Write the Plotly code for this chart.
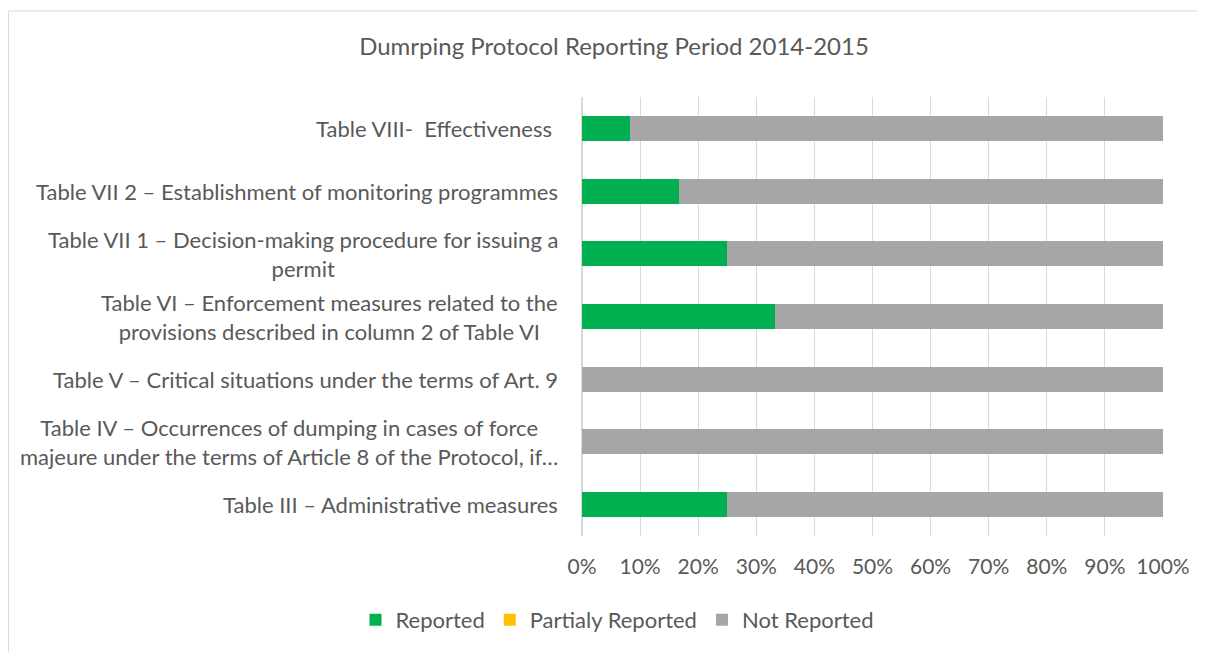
import plotly.graph_objects as go

categories = [
    "Table VIII-  Effectiveness\u00a0",
    "Table VII 2 \u2013 Establishment of monitoring programmes",
    "Table VII 1 \u2013 Decision-making procedure for issuing a<br>permit",
    "Table VI \u2013 Enforcement measures related to the<br>provisions described in column 2 of Table VI",
    "Table V \u2013 Critical situations under the terms of Art. 9",
    "Table IV \u2013 Occurrences of dumping in cases of force<br>majeure under the terms of Article 8 of the Protocol, if\u2026",
    "Table III \u2013 Administrative measures",
]
reported = [8.3, 16.7, 25.0, 33.3, 0.0, 0.0, 25.0]
partialy_reported = [0, 0, 0, 0, 0, 0, 0]
not_reported = [91.7, 83.3, 75.0, 66.7, 100.0, 100.0, 75.0]
x_ticks = [0, 10, 20, 30, 40, 50, 60, 70, 80, 90, 100]

FONT = "Lato, Carlito, Calibri, sans-serif"
TXT = "#595959"

# page body has an 8px offset
W, H = 1197, 644
L, R, T, B = 574, 42, 89, 116
PW = W - L - R
PH = H - T - B

cat_ids = list(range(len(categories)))

fig = go.Figure()
fig.add_trace(go.Bar(y=cat_ids, x=reported, orientation="h", name="Reported",
                     marker=dict(color="#00b050", line=dict(width=0))))
fig.add_trace(go.Bar(y=cat_ids, x=partialy_reported, orientation="h", name="Partialy Reported",
                     marker=dict(color="#ffc000", line=dict(width=0))))
fig.add_trace(go.Bar(y=cat_ids, x=not_reported, orientation="h", name="Not Reported",
                     marker=dict(color="#a6a6a6", line=dict(width=0))))

for i, c in zip(cat_ids, categories):
    fig.add_annotation(x=0, xref="paper", y=i, yref="y", text=c, showarrow=False,
                       xanchor="right", yanchor="middle", align="center", xshift=-22,
                       font=dict(family=FONT, size=22, color=TXT))

fig.add_shape(type="rect", xref="paper", yref="paper",
              x0=(0.5 - L) / PW, x1=(W + 30 - L) / PW,
              y0=(PH - (H + 30 - T)) / PH, y1=(PH - (3 - T)) / PH,
              line=dict(color="#d9d9d9", width=1), fillcolor="rgba(0,0,0,0)", layer="below")

fig.update_layout(
    barmode="stack",
    bargap=0.6,
    width=W, height=H,
    margin=dict(l=L, r=R, t=T, b=B),
    paper_bgcolor="white", plot_bgcolor="white",
    font=dict(family=FONT, size=21, color=TXT),
    title=dict(text="Dumrping Protocol Reporting Period 2014-2015", x=606 / W, xanchor="center",
               y=1 - 39 / H, yanchor="middle", font=dict(family=FONT, size=24, color=TXT)),
    xaxis=dict(range=[0, 100], tickvals=x_ticks, ticktext=[f"{v}%" for v in x_ticks],
               showgrid=True, gridcolor="#d9d9d9", gridwidth=1, zeroline=True,
               zerolinecolor="#d9d9d9", showline=False, ticks="", ticklabelstandoff=16,
               tickfont=dict(family=FONT, size=21, color=TXT)),
    yaxis=dict(tickvals=cat_ids, showticklabels=False, autorange="reversed",
               showgrid=False, zeroline=False, showline=False, ticks=""),
    legend=dict(orientation="h", x=609 / W, xref="container", xanchor="center",
                y=1 - 612 / H, yref="container", yanchor="middle",
                font=dict(family=FONT, size=22, color=TXT), itemwidth=30,
                traceorder="normal"),
    showlegend=True,
)

fig.write_html("out.html")
